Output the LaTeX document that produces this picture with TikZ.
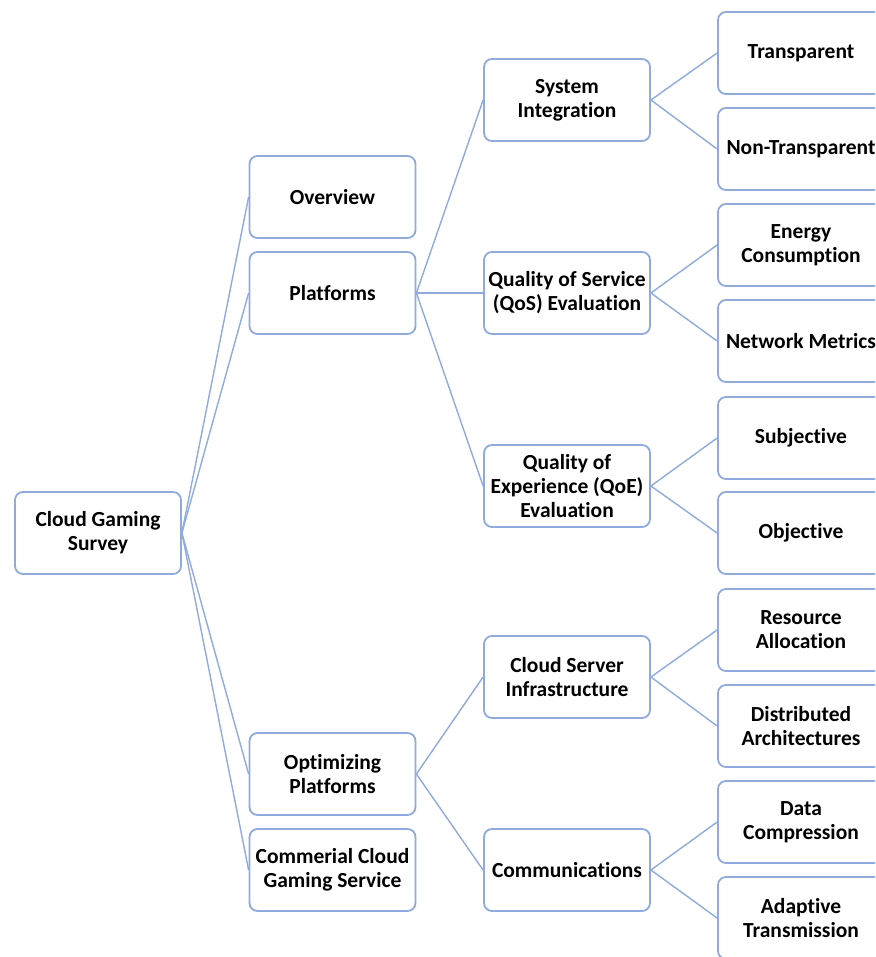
\documentclass[tikz,border=0pt]{standalone}
\usepackage{fontspec}
\setmainfont[Ligatures=NoCommon]{Carlito}
\definecolor{edge}{HTML}{8FAADC}
\begin{document}
\begin{tikzpicture}[x=1pt,y=-1pt,
  box/.style={draw=edge, line width=1.8pt, rounded corners=8pt, fill=white,
    minimum width=166pt, minimum height=82pt, align=center, inner sep=2pt,
    font=\fontsize{21.5}{24}\selectfont\bfseries, text=black},
  link/.style={draw=edge, line width=1.4pt}]
\useasboundingbox (0,0) rectangle (875,957);
\clip (0,0) rectangle (875,957);
% nodes
\node[box] (root) at (98,533) {Cloud Gaming\\Survey};
\node[box] (ov) at (332.5,197) {Overview};
\node[box] (pl) at (332.5,293) {Platforms};
\node[box] (op) at (332.5,774) {Optimizing\\Platforms};
\node[box] (cc) at (332.5,870) {Commerial Cloud\\Gaming Service};
\node[box] (si) at (567,100) {System\\Integration};
\node[box] (qos) at (567,293) {Quality of Service\\(QoS) Evaluation};
\node[box] (qoe) at (567,486) {Quality of\\Experience (QoE)\\Evaluation};
\node[box] (cs) at (567,677) {Cloud Server\\Infrastructure};
\node[box] (cm) at (567,870) {Communications};
\node[box] (tr) at (801,53) {Transparent};
\node[box] (nt) at (801,149) {Non-Transparent};
\node[box] (en) at (801,245) {Energy\\Consumption};
\node[box] (nm) at (801,341) {Network Metrics};
\node[box] (sb) at (801,438) {Subjective};
\node[box] (ob) at (801,533) {Objective};
\node[box] (ra) at (801,630) {Resource\\Allocation};
\node[box] (da) at (801,726) {Distributed\\Architectures};
\node[box] (dc) at (801,822) {Data\\Compression};
\node[box] (at) at (801,918) {Adaptive\\Transmission};
% connectors
\foreach \c in {ov,pl,op,cc} \draw[link] (root.east) -- (\c.west);
\foreach \c in {si,qos,qoe} \draw[link] (pl.east) -- (\c.west);
\foreach \c in {cs,cm} \draw[link] (op.east) -- (\c.west);
\foreach \c in {tr,nt} \draw[link] (si.east) -- (\c.west);
\foreach \c in {en,nm} \draw[link] (qos.east) -- (\c.west);
\foreach \c in {sb,ob} \draw[link] (qoe.east) -- (\c.west);
\foreach \c in {ra,da} \draw[link] (cs.east) -- (\c.west);
\foreach \c in {dc,at} \draw[link] (cm.east) -- (\c.west);
\end{tikzpicture}
\end{document}
